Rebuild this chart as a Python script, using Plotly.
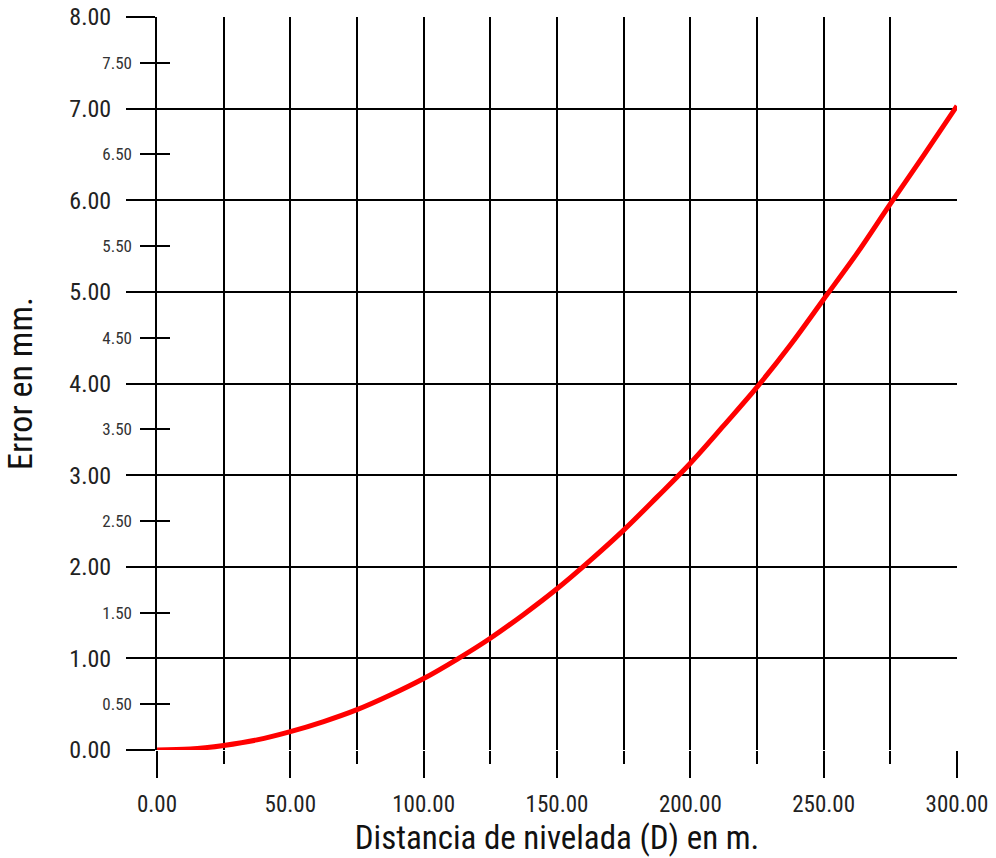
import plotly.graph_objects as go

# Data
distance_m = [0, 12.5, 25, 37.5, 50, 62.5, 75, 87.5, 100, 112.5, 125, 137.5, 150,
              162.5, 175, 187.5, 200, 212.5, 225, 237.5, 250, 262.5, 275, 287.5, 300]
error_mm = [0.00, 0.01, 0.05, 0.11, 0.20, 0.31, 0.44, 0.60, 0.78, 0.99, 1.22, 1.48, 1.76,
            2.07, 2.40, 2.76, 3.13, 3.54, 3.96, 4.42, 4.92, 5.42, 5.96, 6.49, 7.03]

x_tick_vals = [0, 50, 100, 150, 200, 250, 300]
x_tick_text = ["0.00", "50.00", "100.00", "150.00", "200.00", "250.00", "300.00"]
y_major_vals = [0, 1, 2, 3, 4, 5, 6, 7, 8]
y_major_text = ["0.00", "1.00", "2.00", "3.00", "4.00", "5.00", "6.00", "7.00", "8.00"]
y_minor_vals = [0.5, 1.5, 2.5, 3.5, 4.5, 5.5, 6.5, 7.5]
y_minor_text = ["0.50", "1.50", "2.50", "3.50", "4.50", "5.50", "6.50", "7.50"]

FONT = "Liberation Sans Narrow, Arial Narrow, Roboto Condensed, Liberation Sans, sans-serif"

fig = go.Figure()
fig.add_trace(go.Scatter(x=distance_m, y=error_mm, mode="lines",
                         line=dict(color="#ff0000", width=5, shape="spline"),
                         hoverinfo="skip", showlegend=False, cliponaxis=False))
# invisible trace to activate yaxis2
fig.add_trace(go.Scatter(x=[0], y=[0], yaxis="y2", mode="markers",
                         marker=dict(opacity=0), showlegend=False, hoverinfo="skip"))

fig.update_layout(
    width=996, height=858,
    margin=dict(l=157, r=39, t=17, b=108),
    paper_bgcolor="white", plot_bgcolor="white",
    font=dict(family=FONT, color="#111111"),
    xaxis=dict(
        range=[0, 300], tickvals=x_tick_vals, ticktext=x_tick_text,
        automargin=False,
        ticks="outside", ticklen=27, tickwidth=2, tickcolor="black",
        showgrid=True, gridcolor="black", gridwidth=2,
        showline=False, zeroline=False,
        tickfont=dict(size=23, family=FONT, color="#222222"),
        ticklabelstandoff=6,
        minor=dict(dtick=25, tick0=0, ticks="outside", ticklen=13, tickwidth=2,
                   tickcolor="black", showgrid=True, gridcolor="black", gridwidth=2),
        title=dict(text="Distancia de nivelada (D) en m.",
                   font=dict(size=33, family=FONT, color="#111111"), standoff=2),
    ),
    yaxis=dict(
        range=[0, 8], tickvals=y_major_vals, ticktext=y_major_text,
        automargin=False,
        ticks="outside", ticklen=29, tickwidth=2, tickcolor="black",
        showgrid=True, gridcolor="black", gridwidth=2,
        showline=True, linecolor="black", linewidth=2,
        zeroline=False,
        tickfont=dict(size=24, family=FONT, color="#222222"),
        ticklabelstandoff=10,
        minor=dict(tickvals=y_minor_vals, ticks="outside", ticklen=15, tickwidth=2,
                   tickcolor="black", showgrid=False),
        title=dict(text="Error en mm.",
                   font=dict(size=34, family=FONT, color="#111111"), standoff=26),
    ),
    yaxis2=dict(
        range=[0, 8], overlaying="y", side="left", automargin=False,
        tickvals=y_minor_vals, ticktext=y_minor_text,
        ticks="inside", ticklen=13, tickwidth=2, tickcolor="black",
        showgrid=False, showline=False, zeroline=False,
        tickfont=dict(size=17, family=FONT, color="#333333"),
        ticklabelstandoff=24,
    ),
)

fig.write_html("out.html")
